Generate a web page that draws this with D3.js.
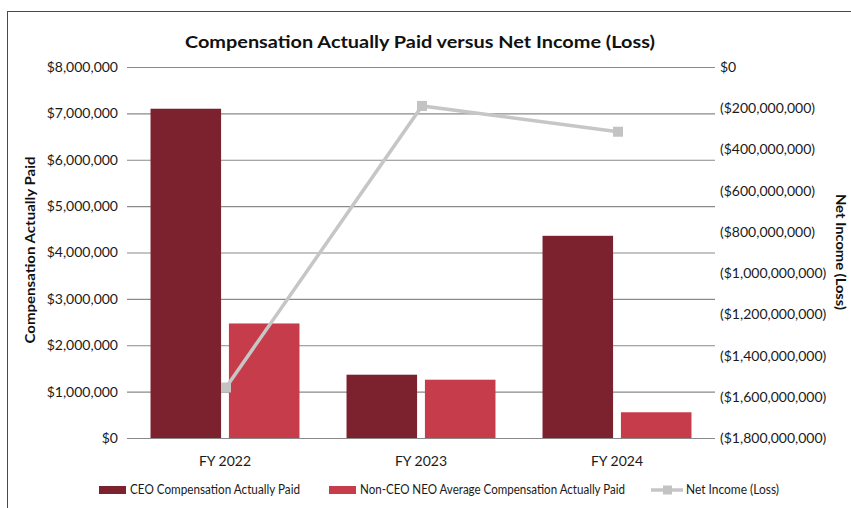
<!DOCTYPE html>
<html>
<head>
<meta charset="utf-8">
<script src="https://cdn.jsdelivr.net/npm/d3@7"></script>
<style>
  html, body { margin: 0; padding: 0; background: #fff; }
  svg { display: block; font-family: Lato, "Open Sans", sans-serif; }
</style>
</head>
<body>
<svg id="chart" width="851" height="508"></svg>
<script>
/* ── data ─────────────────────────────────────────── */
const categories = ["FY 2022", "FY 2023", "FY 2024"];
const ceoPaid    = [7100000, 1365000, 4360000];
const neoPaid    = [2470000, 1257000, 555000];
const netIncome  = [-1555000000, -189000000, -314000000];
const leftTicks  = [0, 1e6, 2e6, 3e6, 4e6, 5e6, 6e6, 7e6, 8e6];
const rightTicks = [0, -2e8, -4e8, -6e8, -8e8, -1e9, -1.2e9, -1.4e9, -1.6e9, -1.8e9];
const seriesNames = ["CEO Compensation Actually Paid",
                     "Non-CEO NEO Average Compensation Actually Paid",
                     "Net Income (Loss)"];

/* ── config ───────────────────────────────────────── */
const COL_CEO  = "#7c222e";
const COL_NEO  = "#c73c4b";
const COL_LINE = "#c6c6c6";
const X0 = 127, X1 = 715, YT = 67, YB = 438;

const svg = d3.select("#chart");

// frame (only left/top visible in the picture)
svg.append("rect")
  .attr("x", 7.5).attr("y", 11.5)
  .attr("width", 1000).attr("height", 600)
  .attr("fill", "none").attr("stroke", "#4a4a4a").attr("stroke-width", 1);

/* ── scales ───────────────────────────────────────── */
const x = d3.scaleBand().domain(categories).range([X0, X1])
  .paddingInner(0.24).paddingOuter(0.12);
const xSub = d3.scaleBand().domain(["ceo", "neo"]).range([0, x.bandwidth()])
  .paddingInner(0.1);
const xMid = d3.scalePoint().domain(categories).range([X0, X1]).padding(0.5);

const yL = d3.scaleLinear().domain([0, 8e6]).range([YB, YT]);
const yR = d3.scaleLinear().domain([-1.8e9, 0]).range([YB, YT]);

/* ── axes + grid ──────────────────────────────────── */
const fmt = d3.format(",");

svg.append("g")
  .attr("transform", `translate(${X0},0)`)
  .call(d3.axisLeft(yL).tickValues(leftTicks)
    .tickSize(-(X1 - X0)).tickPadding(9)
    .tickFormat(d => "$" + fmt(d)))
  .call(ax => ax.select(".domain").remove())
  .call(ax => ax.selectAll("line").attr("stroke", "#8a8a8a").attr("stroke-width", 1.2))
  .call(ax => ax.selectAll("text").attr("fill", "#1a1a1a").attr("font-size", 14)
    .attr("font-family", "Lato, sans-serif"));

svg.append("g")
  .attr("transform", `translate(${X1},0)`)
  .call(d3.axisRight(yR).tickValues(rightTicks)
    .tickSize(0).tickPadding(5)
    .tickFormat(d => d === 0 ? "$0" : "($" + fmt(-d) + ")"))
  .call(ax => ax.select(".domain").remove())
  .call(ax => ax.selectAll("text").attr("fill", "#1a1a1a").attr("font-size", 14)
    .attr("font-family", "Lato, sans-serif"));

svg.append("g")
  .attr("transform", `translate(0,${YB})`)
  .call(d3.axisBottom(x).tickSize(0).tickPadding(18))
  .call(ax => ax.select(".domain").remove())
  .call(ax => ax.selectAll("text").attr("fill", "#1a1a1a").attr("font-size", 14)
    .attr("font-family", "Lato, sans-serif"));

/* ── bars ─────────────────────────────────────────── */
const groups = svg.append("g").selectAll("g")
  .data(categories)
  .join("g")
  .attr("transform", d => `translate(${x(d)},0)`);

groups.append("rect")
  .attr("x", xSub("ceo"))
  .attr("width", xSub.bandwidth())
  .attr("y", (d, i) => yL(ceoPaid[i]))
  .attr("height", (d, i) => YB - yL(ceoPaid[i]))
  .attr("fill", COL_CEO);

groups.append("rect")
  .attr("x", xSub("neo"))
  .attr("width", xSub.bandwidth())
  .attr("y", (d, i) => yL(neoPaid[i]))
  .attr("height", (d, i) => YB - yL(neoPaid[i]))
  .attr("fill", COL_NEO);

/* ── line ─────────────────────────────────────────── */
const line = d3.line()
  .x((d, i) => xMid(categories[i]) + 1)
  .y(d => yR(d));

svg.append("path")
  .datum(netIncome)
  .attr("d", line)
  .attr("fill", "none")
  .attr("stroke", COL_LINE)
  .attr("stroke-width", 3.5);

svg.append("g").selectAll("rect")
  .data(netIncome)
  .join("rect")
  .attr("x", (d, i) => xMid(categories[i]) + 1 - 5)
  .attr("y", d => yR(d) - 5)
  .attr("width", 10).attr("height", 10)
  .attr("fill", "#c3c3c3");

/* ── titles ───────────────────────────────────────── */
svg.append("text")
  .attr("x", 420).attr("y", 48)
  .attr("text-anchor", "middle")
  .attr("font-size", 17.5).attr("font-weight", "bold").attr("fill", "#111")
  .attr("textLength", 470).attr("lengthAdjust", "spacingAndGlyphs")
  .text("Compensation Actually Paid versus Net Income (Loss)");

svg.append("text")
  .attr("transform", "translate(35,250) rotate(-90)")
  .attr("text-anchor", "middle")
  .attr("font-size", 13.5).attr("font-weight", "bold").attr("fill", "#111")
  .attr("textLength", 187).attr("lengthAdjust", "spacingAndGlyphs")
  .text("Compensation Actually Paid");

svg.append("text")
  .attr("transform", "translate(836,252) rotate(90)")
  .attr("text-anchor", "middle")
  .attr("font-size", 13.5).attr("font-weight", "bold").attr("fill", "#111")
  .attr("textLength", 116).attr("lengthAdjust", "spacingAndGlyphs")
  .text("Net Income (Loss)");

/* ── legend ───────────────────────────────────────── */
const LY = 490;
const legend = svg.append("g").attr("font-size", 12.5).attr("fill", "#1a1a1a");

legend.append("rect").attr("x", 99).attr("y", LY - 4).attr("width", 27).attr("height", 8).attr("fill", COL_CEO);
legend.append("text").attr("x", 130).attr("y", LY + 4)
  .attr("textLength", 170).attr("lengthAdjust", "spacingAndGlyphs").text(seriesNames[0]);

legend.append("rect").attr("x", 329).attr("y", LY - 4).attr("width", 27).attr("height", 8).attr("fill", COL_NEO);
legend.append("text").attr("x", 360).attr("y", LY + 4)
  .attr("textLength", 265).attr("lengthAdjust", "spacingAndGlyphs").text(seriesNames[1]);

legend.append("line").attr("x1", 651).attr("x2", 683).attr("y1", LY).attr("y2", LY)
  .attr("stroke", COL_LINE).attr("stroke-width", 3.5);
legend.append("rect").attr("x", 663).attr("y", LY - 4.5).attr("width", 9).attr("height", 9).attr("fill", "#c3c3c3");
legend.append("text").attr("x", 686).attr("y", LY + 4)
  .attr("textLength", 93).attr("lengthAdjust", "spacingAndGlyphs").text(seriesNames[2]);
</script>
</body>
</html>
